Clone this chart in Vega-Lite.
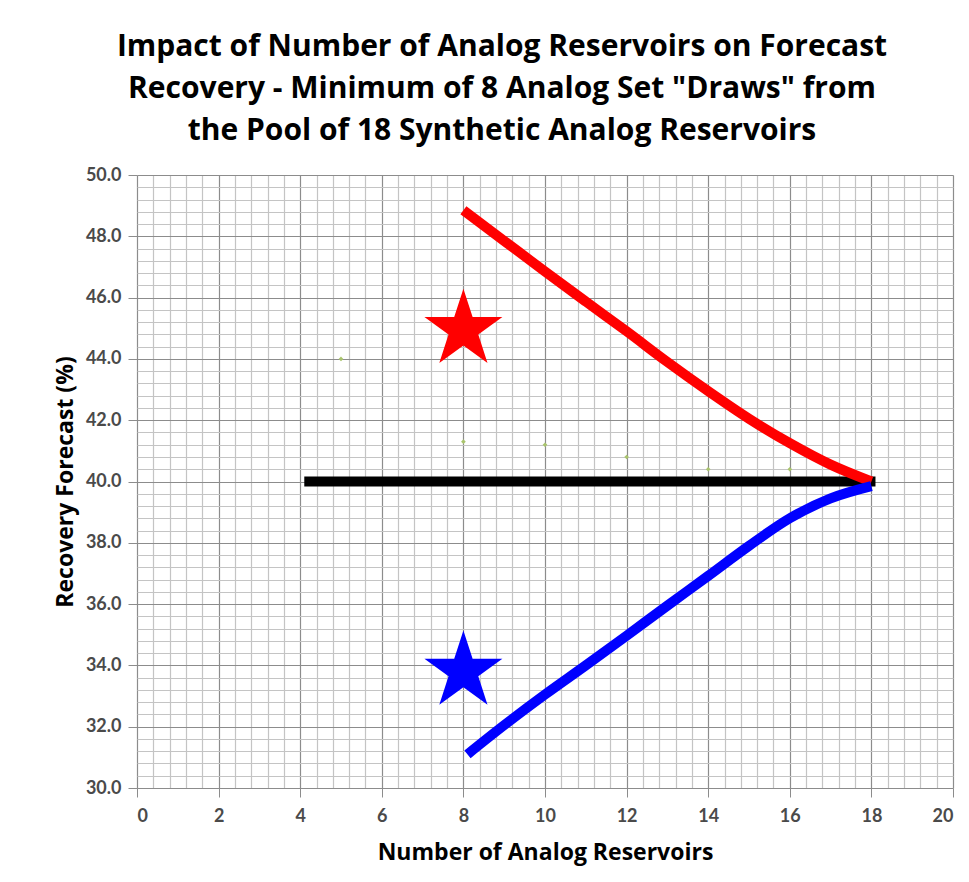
{
  "$schema": "https://vega.github.io/schema/vega-lite/v6.json",
  "autosize": "none",
  "width": 816,
  "height": 613,
  "padding": {"left": 137, "top": 175, "right": 16, "bottom": 94},
  "background": "white",
  "title": {
    "text": ["Impact of Number of Analog Reservoirs on Forecast", "Recovery - Minimum of 8 Analog Set \"Draws\" from", "the Pool of 18 Synthetic Analog Reservoirs"],
    "font": "Open Sans",
    "fontSize": 30,
    "fontWeight": "bold",
    "color": "#000000",
    "lineHeight": 42,
    "anchor": "middle",
    "frame": "group",
    "dx": -43,
    "offset": 20
  },
  "config": {
    "view": {"stroke": null},
    "axis": {
      "labelFont": "Lato",
      "labelFontWeight": "bold",
      "labelFontSize": 18,
      "labelColor": "#4a4a4a",
      "titleFont": "Open Sans",
      "titleFontWeight": "bold",
      "titleColor": "#000000",
      "domain": false,
      "tickColor": "#8c8c8c",
      "tickSize": 9,
      "labelPadding": 7
    }
  },
  "encoding": {
    "x": {
      "field": "x", "type": "quantitative",
      "scale": {"domain": [0, 20], "nice": false, "zero": false},
      "axis": {
        "title": "Number of Analog Reservoirs",
        "titleFontSize": 23,
        "titlePadding": 16,
        "labelPadding": 10,
        "values": [0,0.4,0.8,1.2,1.6,2,2.4,2.8,3.2,3.6,4,4.4,4.8,5.2,5.6,6,6.4,6.8,7.2,7.6,8,8.4,8.8,9.2,9.6,10,10.4,10.8,11.2,11.6,12,12.4,12.8,13.2,13.6,14,14.4,14.8,15.2,15.6,16,16.4,16.8,17.2,17.6,18,18.4,18.8,19.2,19.6,20],
        "labelExpr": "abs(datum.value/2 - round(datum.value/2)) < 0.001 ? format(datum.value, 'd') : ''",
        "tickOpacity": {"condition": {"test": "abs(datum.value/2 - round(datum.value/2)) < 0.001", "value": 1}, "value": 0},
        "gridColor": {"condition": {"test": "abs(datum.value/2 - round(datum.value/2)) < 0.001", "value": "#8c8c8c"}, "value": "#c4c4c4"},
        "gridWidth": 1.2,
        "gridOpacity": 1
      }
    },
    "y": {
      "field": "y", "type": "quantitative",
      "scale": {"domain": [30, 50], "nice": false, "zero": false},
      "axis": {
        "title": "Recovery Forecast (%)",
        "titleFontSize": 23,
        "titlePadding": 8,
        "values": [30,30.4,30.8,31.2,31.6,32,32.4,32.8,33.2,33.6,34,34.4,34.8,35.2,35.6,36,36.4,36.8,37.2,37.6,38,38.4,38.8,39.2,39.6,40,40.4,40.8,41.2,41.6,42,42.4,42.8,43.2,43.6,44,44.4,44.8,45.2,45.6,46,46.4,46.8,47.2,47.6,48,48.4,48.8,49.2,49.6,50],
        "labelExpr": "abs(datum.value/2 - round(datum.value/2)) < 0.001 ? format(datum.value, '.1f') : ''",
        "tickOpacity": {"condition": {"test": "abs(datum.value/2 - round(datum.value/2)) < 0.001", "value": 1}, "value": 0},
        "gridColor": {"condition": {"test": "abs(datum.value/2 - round(datum.value/2)) < 0.001", "value": "#8c8c8c"}, "value": "#c4c4c4"},
        "gridWidth": 1.2,
        "gridOpacity": 1
      }
    }
  },
  "layer": [
    {
      "data": {"values": [
        {"x": 5, "y": 44.0}, {"x": 8, "y": 41.3}, {"x": 10, "y": 41.2},
        {"x": 12, "y": 40.8}, {"x": 14, "y": 40.4}, {"x": 16, "y": 40.4}
      ]},
      "mark": {"type": "point", "shape": "diamond", "filled": true, "size": 22, "color": "#a9c46c", "opacity": 1}
    },
    {
      "data": {"values": [{"x": 4.1, "y": 40.0}, {"x": 18.1, "y": 40.0}]},
      "mark": {"type": "line", "color": "#000000", "strokeWidth": 10, "strokeCap": "butt"}
    },
    {
      "data": {"values": [
        {"x": 8, "y": 48.85}, {"x": 9, "y": 47.85}, {"x": 10, "y": 46.85}, {"x": 11, "y": 45.87},
        {"x": 12, "y": 44.9}, {"x": 13, "y": 43.9}, {"x": 14, "y": 42.95}, {"x": 15, "y": 42.05},
        {"x": 16, "y": 41.25}, {"x": 17, "y": 40.55}, {"x": 18, "y": 40.0}
      ]},
      "mark": {"type": "line", "color": "#ff0000", "strokeWidth": 10, "interpolate": "monotone", "strokeCap": "butt"}
    },
    {
      "data": {"values": [
        {"x": 8.1, "y": 31.1}, {"x": 9, "y": 32.05}, {"x": 10, "y": 33.05}, {"x": 11, "y": 34.0},
        {"x": 12, "y": 34.97}, {"x": 13, "y": 35.95}, {"x": 14, "y": 36.92}, {"x": 15, "y": 37.9},
        {"x": 16, "y": 38.8}, {"x": 17, "y": 39.45}, {"x": 18, "y": 39.85}
      ]},
      "mark": {"type": "line", "color": "#0000ff", "strokeWidth": 10, "interpolate": "monotone", "strokeCap": "butt"}
    },
    {
      "data": {"values": [{"x": 8, "y": 44.95, "c": "red"}, {"x": 8, "y": 33.8, "c": "blue"}]},
      "mark": {"type": "point", "shape": "M0,-1L0.2245,-0.309L0.951,-0.309L0.363,0.118L0.588,0.809L0,0.382L-0.588,0.809L-0.363,0.118L-0.951,-0.309L-0.2245,-0.309Z", "filled": true, "size": 6724, "opacity": 1},
      "encoding": {
        "color": {"field": "c", "type": "nominal", "scale": {"domain": ["red", "blue"], "range": ["#ff0000", "#0000ff"]}, "legend": null}
      }
    }
  ]
}
